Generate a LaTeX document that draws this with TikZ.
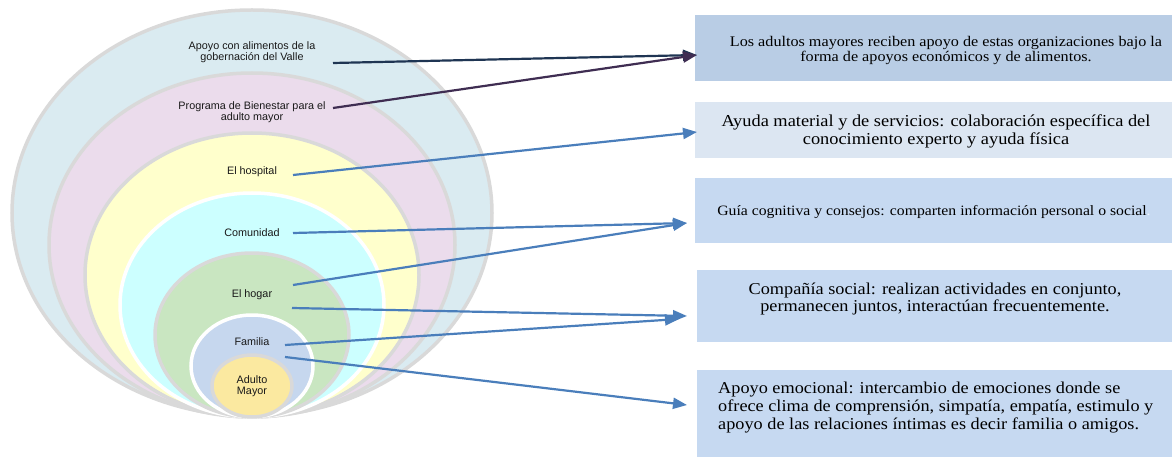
\documentclass[tikz,border=0pt]{standalone}
\usepackage{fontspec}
\setmainfont{Liberation Serif}
\newfontfamily\lblfont{Liberation Sans}
\newfontfamily\boxfont[FakeStretch=1.1]{Liberation Serif}
\usetikzlibrary{arrows.meta,calc}
\definecolor{ringgray}{HTML}{D9D9D9}
\definecolor{cOuter}{HTML}{DAEBF1}
\definecolor{cPink}{HTML}{EBDCEC}
\definecolor{cYellow}{HTML}{FFFFCC}
\definecolor{cCyan}{HTML}{CCFFFF}
\definecolor{cGreen}{HTML}{C9E6C1}
\definecolor{cFam}{HTML}{C6D7EE}
\definecolor{cCore}{HTML}{FBE9A0}
\definecolor{bxA}{HTML}{B9CDE5}
\definecolor{bxB}{HTML}{DCE6F2}
\definecolor{bxC}{HTML}{C6D9F1}
\definecolor{arNavy}{HTML}{1F3553}
\definecolor{arPurple}{HTML}{3F2D52}
\definecolor{arBlue}{HTML}{4A7EBB}
\tikzset{
  ringg/.style={draw=ringgray,line width=3.5pt},
  ringw/.style={draw=white,line width=3.5pt},
  lbl/.style={font=\lblfont\fontsize{10.8}{11.5}\selectfont,align=center,inner sep=0pt,text=black!90},
  boxr/.style={inner sep=0pt,anchor=north west},
  boxt/.style={inner sep=0pt,align=center,text=black},
  arr/.style={line width=2.2pt,-{Triangle[length=14pt,width=11pt]}},
}
\begin{document}
\begin{tikzpicture}[x=1pt,y=-1pt]
\useasboundingbox (0,0) rectangle (1172,457);
% rings
\path[ringg,fill=cOuter] (252,213) ellipse [x radius=240,y radius=203];
\path[ringg,fill=cPink] (252,245) ellipse [x radius=203,y radius=172];
\path[ringg,fill=cYellow] (252,275) ellipse [x radius=167,y radius=142];
\path[ringw,fill=cCyan] (252,305) ellipse [x radius=132,y radius=112];
\path[ringg,fill=cGreen] (252,335) ellipse [x radius=97,y radius=82];
\path[ringw,fill=cFam] (252,366) ellipse [x radius=61,y radius=51];
\path[ringg,fill=cCore] (252,386) ellipse [x radius=40,y radius=31];
% ring labels
\node[lbl] (lapoyo) at (252,52) {Apoyo con alimentos de la\\gobernación del Valle};
\node[lbl] (lprog) at (252,112) {Programa de Bienestar para el\\adulto mayor};
\node[lbl] (lhosp) at (252,172) {El hospital};
\node[lbl] (lcom) at (252,233) {Comunidad};
\node[lbl] (lhog) at (252,295) {El hogar};
\node[lbl] (lfam) at (252,342) {Familia};
\node[lbl] (lcore) at (252,386) {Adulto\\Mayor};
% boxes
\node[boxr,fill=bxA,minimum width=477pt,minimum height=66pt] (b1) at (695,15) {};
\node[boxr,fill=bxB,minimum width=477pt,minimum height=56pt] (b2) at (695,102) {};
\node[boxr,fill=bxC,minimum width=477pt,minimum height=65pt] (b3) at (695,178) {};
\node[boxr,fill=bxC,minimum width=475pt,minimum height=72pt] (b4) at (697,270) {};
\node[boxr,fill=bxC,minimum width=475pt,minimum height=87pt] (b5) at (697,370) {};
\node[boxt,font=\boxfont\fontsize{14.7}{15}\selectfont] (t1) at (946,50) {Los adultos mayores reciben apoyo de estas organizaciones bajo la\\forma de apoyos económicos y de alimentos.};
\node[boxt,font=\boxfont\fontsize{16.7}{18}\selectfont] (t2) at (936,131) {Ayuda material y de servicios: colaboración específica del\\conocimiento experto y ayuda física};
\node[boxt,font=\boxfont\fontsize{14.3}{15}\selectfont] (t3) at (934,212) {Guía cognitiva y consejos: comparten información personal o social\textcolor{white!70!bxC}{.}};
\node[boxt,font=\boxfont\fontsize{16.6}{17}\selectfont] (t4) at (935,299) {Compañía social: realizan actividades en conjunto,\\permanecen juntos, interactúan frecuentemente.};
\node[boxt,align=left,anchor=west,font=\boxfont\fontsize{16.6}{18}\selectfont] (t5) at (718,408) {Apoyo emocional: intercambio de emociones donde se\\ofrece clima de comprensión, simpatía, empatía, estimulo y\\apoyo de las relaciones íntimas es decir familia o amigos.};
% connector ends
\coordinate (s1) at (333,63);
\coordinate (s2) at (333,108);
\coordinate (s3) at (293,175);
\coordinate (s4) at (293,233);
\coordinate (s5) at (293,285);
\coordinate (s6) at (292,308);
\coordinate (s7) at (285,345);
\coordinate (s8) at (285,357);
\coordinate (e1) at ($(b1.north west)+(2,40)$);
\coordinate (e2) at ($(b2.north west)+(2,30)$);
\coordinate (e3) at ($(b3.north west)+(-8,45)$);
\coordinate (e4) at ($(b4.north west)+(-10,46)$);
\coordinate (e4b) at ($(b4.north west)+(-18,49)$);
\coordinate (e5) at ($(b5.north west)+(-10,35)$);
% arrows
\draw[arr,arNavy] (s1) -- (e1);
\draw[arr,arPurple] (s2) -- (e1);
\draw[arr,arBlue] (s3) -- (e2);
\draw[arr,arBlue] (s4) -- (e3);
\draw[arr,arBlue] (s5) -- (e3);
\draw[arr,arBlue] (s6) -- (e4);
\draw[arr,arBlue] (s7) -- (e4b);
\draw[arr,arBlue] (s8) -- (e5);
\end{tikzpicture}
\end{document}
